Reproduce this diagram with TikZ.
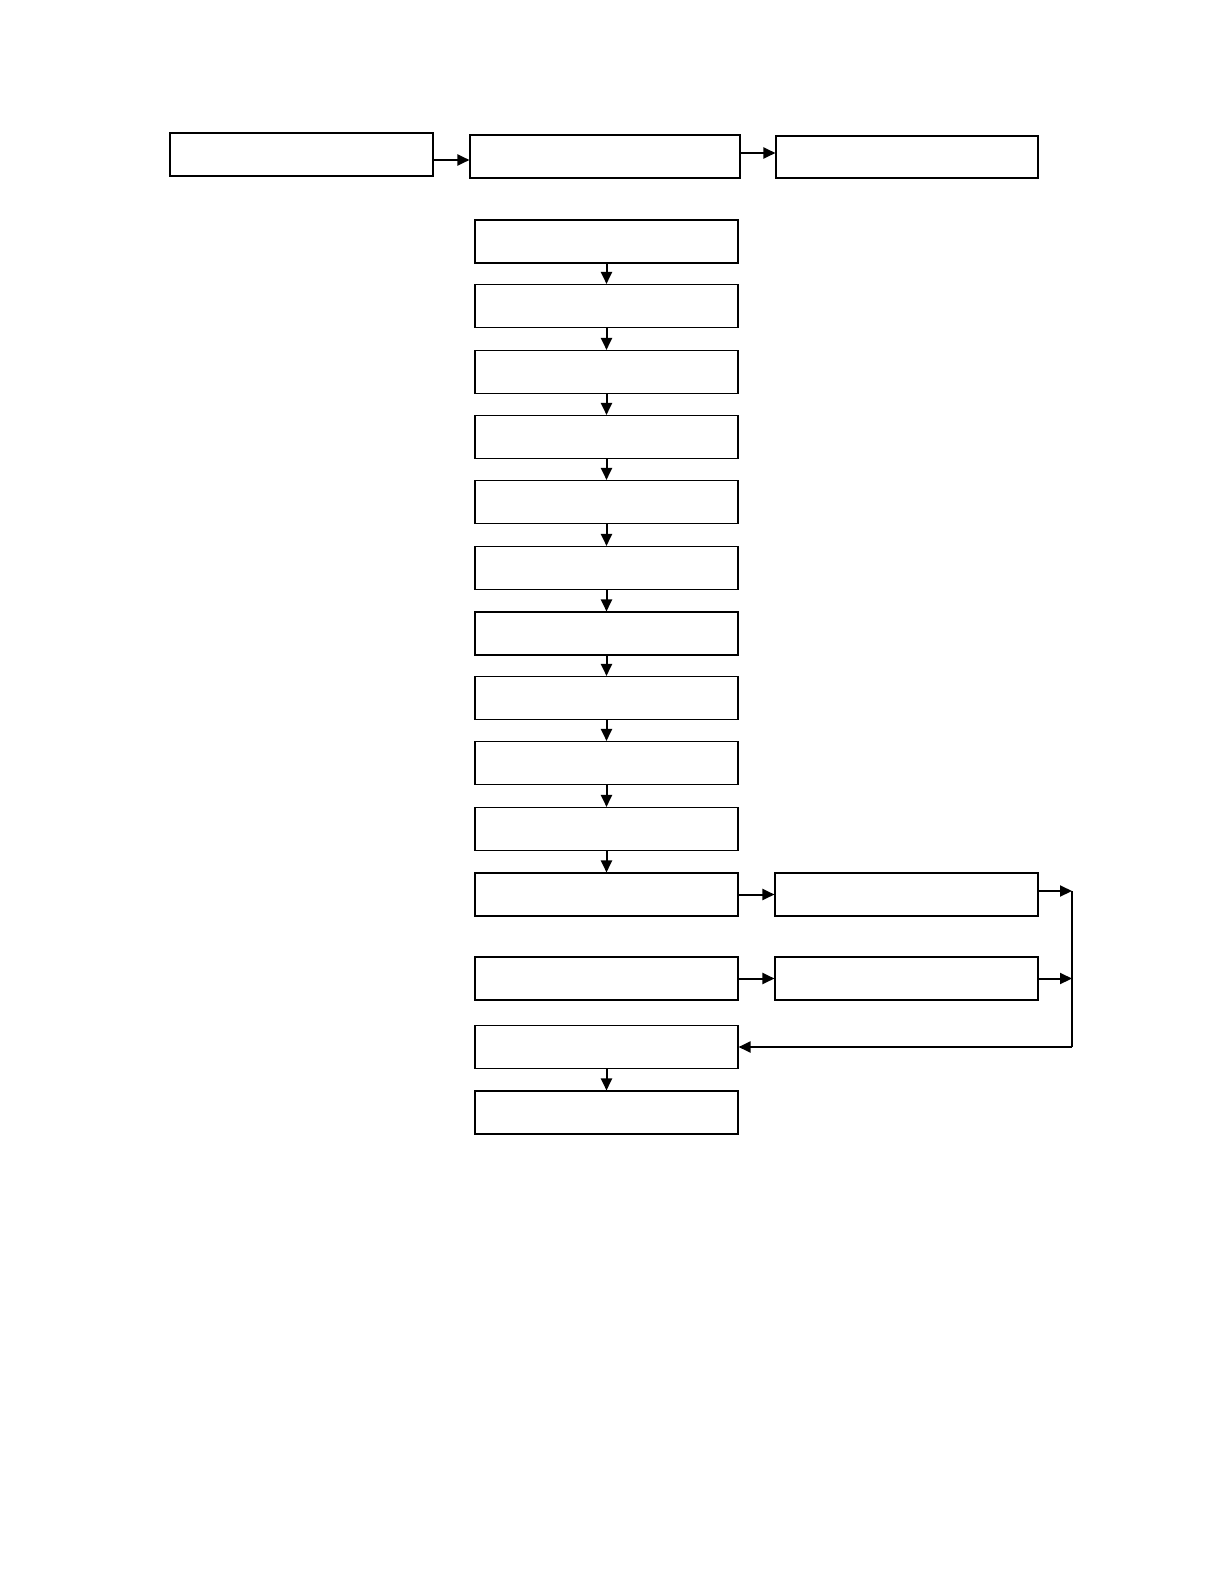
\documentclass[tikz,border=0pt]{standalone}
\usetikzlibrary{arrows.meta}
\begin{document}
\begin{tikzpicture}[x=0.5pt,y=-0.5pt,
  box/.style={draw,line width=0.55pt,inner sep=0pt,minimum width=131.5pt,minimum height=21.5pt},
  arr/.style={line width=1pt,-{Triangle[length=6pt,width=5.5pt]}},
  ln/.style={line width=1pt}]
\useasboundingbox[fill=white] (0,0) rectangle (1224,1584);
% top row
\node[box,minimum width=131.5pt] (A) at (301.5,154.5) {};
\node[box,minimum width=135pt] (B) at (605,156.5) {};
\node[box,minimum width=131pt,minimum height=21pt] (C) at (907,157) {};
% column
\foreach \n/\y in {1/241.5,2/306,3/372,4/437,5/502,6/568,7/633.5,8/698,9/763,10/829,11/894.5,12/978.5,13/1047,14/1112.5}
  \node[box] (c\n) at (606.5,\y) {};
% right boxes
\node[box] (R1) at (906.5,894.5) {};
\node[box] (R2) at (906.5,978.5) {};
% connectors
\coordinate (a1) at ([yshift=-2.75pt]A.east);
\draw[arr] (a1) -- (a1 -| B.west);
\coordinate (b1) at ([yshift=1.75pt]B.east);
\draw[arr] (b1) -- (b1 -| C.west);
\foreach \a/\b in {1/2,2/3,3/4,4/5,5/6,6/7,7/8,8/9,9/10,10/11,13/14}
  \draw[arr] (c\a.south) -- (c\b.north);
\draw[arr] (c11.east) -- (R1.west);
\draw[arr] (c12.east) -- (R2.west);
\coordinate (j1) at (1072,891);
\coordinate (j2) at (1072,978.5);
\coordinate (k) at (1072,1047);
\draw[arr] (R1.east |- j1) -- (j1);
\draw[arr] (R2.east) -- (j2);
\draw[ln] (j1) -- (k);
\draw[arr] (k) -- (c13.east);
\end{tikzpicture}
\end{document}
